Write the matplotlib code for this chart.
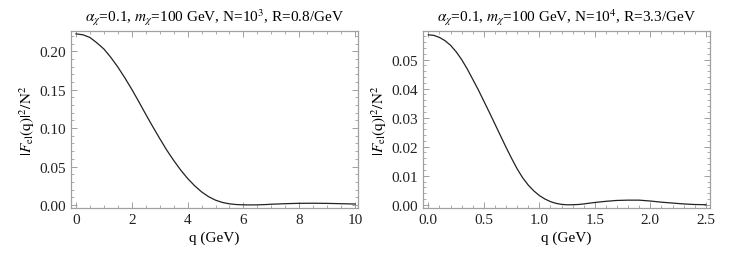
import matplotlib
matplotlib.use('Agg')
import matplotlib.pyplot as plt
from matplotlib.ticker import MultipleLocator, FormatStrFormatter

plt.rcParams['font.family'] = ['Liberation Serif', 'DejaVu Serif']
plt.rcParams['mathtext.fontset'] = 'stix'

# panel 1: N=10^3, R=0.8/GeV
q1 = [0, 0.25, 0.5, 0.75, 1.0, 1.25, 1.5, 1.75, 2.0, 2.25, 2.5, 2.75, 3.0, 3.25,
      3.5, 3.75, 4.0, 4.25, 4.5, 4.75, 5.0, 5.25, 5.5, 5.75, 6.0, 6.25, 6.5, 6.75,
      7.0, 7.5, 8.0, 8.5, 9.0, 9.5, 10.0]
f1 = [0.2227, 0.2215, 0.2180, 0.2110, 0.2030, 0.1920, 0.1795, 0.1655, 0.1505,
      0.1345, 0.1180, 0.1020, 0.0865, 0.0715, 0.0580, 0.0455, 0.0345, 0.0250,
      0.0170, 0.0108, 0.0062, 0.0032, 0.0014, 0.0005, 0.0001, 0.0, 0.0001,
      0.0004, 0.0009, 0.0016, 0.0021, 0.0022, 0.0020, 0.0016, 0.0012]

# panel 2: N=10^4, R=3.3/GeV
q2 = [0, 0.05, 0.1, 0.15, 0.2, 0.25, 0.3, 0.35, 0.4, 0.45, 0.5, 0.55, 0.6, 0.65,
      0.7, 0.75, 0.8, 0.85, 0.9, 0.95, 1.0, 1.05, 1.1, 1.15, 1.2, 1.25, 1.3,
      1.35, 1.4, 1.5, 1.6, 1.7, 1.8, 1.9, 2.0, 2.1, 2.2, 2.3, 2.4, 2.5]
f2 = [0.0585, 0.0583, 0.0576, 0.0565, 0.0549, 0.0527, 0.0500, 0.0468, 0.0432,
      0.0396, 0.0357, 0.0318, 0.0278, 0.0238, 0.0198, 0.0160, 0.0124, 0.0093,
      0.0068, 0.0048, 0.0032, 0.0020, 0.0011, 0.0005, 0.00015, 0.0, 0.00002,
      0.0001, 0.0003, 0.0008, 0.0012, 0.0015, 0.0016, 0.0016, 0.0013, 0.0009,
      0.0006, 0.0003, 0.0001, 0.00003]

titles = [r'$\alpha_\chi$=0.1, $m_\chi$=100 GeV, N=10$^3$, R=0.8/GeV',
          r'$\alpha_\chi$=0.1, $m_\chi$=100 GeV, N=10$^4$, R=3.3/GeV']

fig = plt.figure(figsize=(7.47, 2.55), dpi=100)
ax1 = fig.add_axes([0.095, 0.1804, 0.384, 0.694])
ax2 = fig.add_axes([0.5667, 0.1804, 0.3838, 0.694])

gray = '#a0a0a0'

def style(ax, xmaj, xmin, ymaj, ymin, xfmt, yfmt):
    ax.xaxis.set_major_locator(MultipleLocator(xmaj))
    ax.xaxis.set_minor_locator(MultipleLocator(xmin))
    ax.yaxis.set_major_locator(MultipleLocator(ymaj))
    ax.yaxis.set_minor_locator(MultipleLocator(ymin))
    ax.xaxis.set_major_formatter(FormatStrFormatter(xfmt))
    ax.yaxis.set_major_formatter(FormatStrFormatter(yfmt))
    for s in ax.spines.values():
        s.set_color(gray)
        s.set_linewidth(0.9)
    ax.tick_params(which='both', direction='in', top=True, right=True, color=gray,
                   labelsize=11, labelcolor='#222222')
    ax.tick_params(which='major', length=4, width=0.7)
    ax.tick_params(which='minor', length=2, width=0.6)
    ax.set_xlabel('q (GeV)', fontsize=11, labelpad=3)
    ax.set_ylabel(r'$|F_{\rm el}(\rm q)|^2/N^2$', fontsize=11, labelpad=2)

ax1.plot(q1, f1, color='#222222', lw=0.9)
ax1.set_xlim(-0.18, 10.1)
ax1.set_ylim(-0.004, 0.2264)
style(ax1, 2, 0.5, 0.05, 0.01, '%d', '%.2f')
ax1.set_title(titles[0], fontsize=11, pad=7)

ax2.plot(q2, f2, color='#222222', lw=0.9)
ax2.set_xlim(-0.045, 2.538)
ax2.set_ylim(-0.0011, 0.0598)
style(ax2, 0.5, 0.1, 0.01, 0.002, '%.1f', '%.2f')
ax2.set_title(titles[1], fontsize=11, pad=7)

fig.savefig('out.png', dpi=100)
